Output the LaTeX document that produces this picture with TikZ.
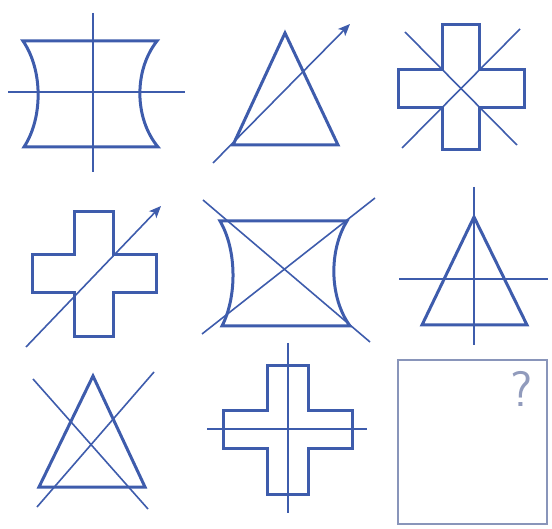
\documentclass[tikz,border=0pt]{standalone}
\usepackage{tikz}
\usetikzlibrary{arrows, arrows.meta, positioning}
\definecolor{figblue}{RGB}{62,92,172}
\definecolor{qgray}{RGB}{145,155,188}
\tikzstyle{outline} = [figblue, line width=1.5pt, line join=miter]
\tikzstyle{axis}    = [figblue, line width=0.8pt]
\tikzstyle{arrow}   = [figblue, line width=0.8pt, -{Stealth[length=6pt, width=5pt, inset=1.5pt]}]
\tikzstyle{frame}   = [qgray!90!figblue, line width=1pt]

\begin{document}
\begin{tikzpicture}[x=0.5pt, y=-0.5pt]
\useasboundingbox (0,0) rectangle (552,529);

% row 1
\draw[axis] (8,92) -- (185,92);
\draw[axis] (93,13) -- (93,172);
\draw[outline] (23,41) -- (157,41) .. controls (134,70) and (134,118) .. (158,147)
  -- (24,147) .. controls (43,118) and (43,70) .. cycle;

\draw[outline] (285,33) -- (338,145) -- (233,145) -- cycle;
\coordinate (A1) at (213,163);
\coordinate (B1) at (350,24);
\draw[arrow] (A1) -- (B1);

\draw[axis] (405,32) -- (517,145);
\draw[axis] (520,29) -- (402,148);
\draw[outline] (442,25) -- (479,25) -- (479,70) -- (524,70) -- (524,108) -- (479,108)
  -- (479,150) -- (442,150) -- (442,108) -- (398,108) -- (398,70) -- (442,70) -- cycle;

% row 2
\draw[outline] (74,212) -- (113,212) -- (113,255) -- (156,255) -- (156,293) -- (113,293)
  -- (113,337) -- (74,337) -- (74,293) -- (32,293) -- (32,255) -- (74,255) -- cycle;
\coordinate (A2) at (26,347);
\coordinate (B2) at (161,206);
\draw[arrow] (A2) -- (B2);

\draw[axis] (203,200) -- (370,342);
\draw[axis] (375,198) -- (202,334);
\draw[outline] (220,221) -- (347,221) .. controls (329,250) and (329,297) .. (350,326)
  -- (222,326) .. controls (237,297) and (237,250) .. cycle;

\draw[axis] (474,187) -- (474,345);
\draw[axis] (399,279) -- (548,279);
\draw[outline] (474,217) -- (527,325) -- (422,325) -- cycle;

% row 3
\draw[axis] (33,379) -- (148,509);
\draw[axis] (154,372) -- (37,507);
\draw[outline] (93,376) -- (145,487) -- (39,487) -- cycle;

\draw[axis] (288,343) -- (288,513);
\draw[axis] (207,429) -- (367,429);
\draw[outline] (267,366) -- (308,366) -- (308,411) -- (352,411) -- (352,449) -- (308,449)
  -- (308,494) -- (267,494) -- (267,449) -- (223,449) -- (223,411) -- (267,411) -- cycle;

\draw[frame] (398,360) rectangle (547,524);
\node[qgray, font=\fontsize{25}{25}\sffamily] (Q) at (522,389) {?};

\end{tikzpicture}
\end{document}
